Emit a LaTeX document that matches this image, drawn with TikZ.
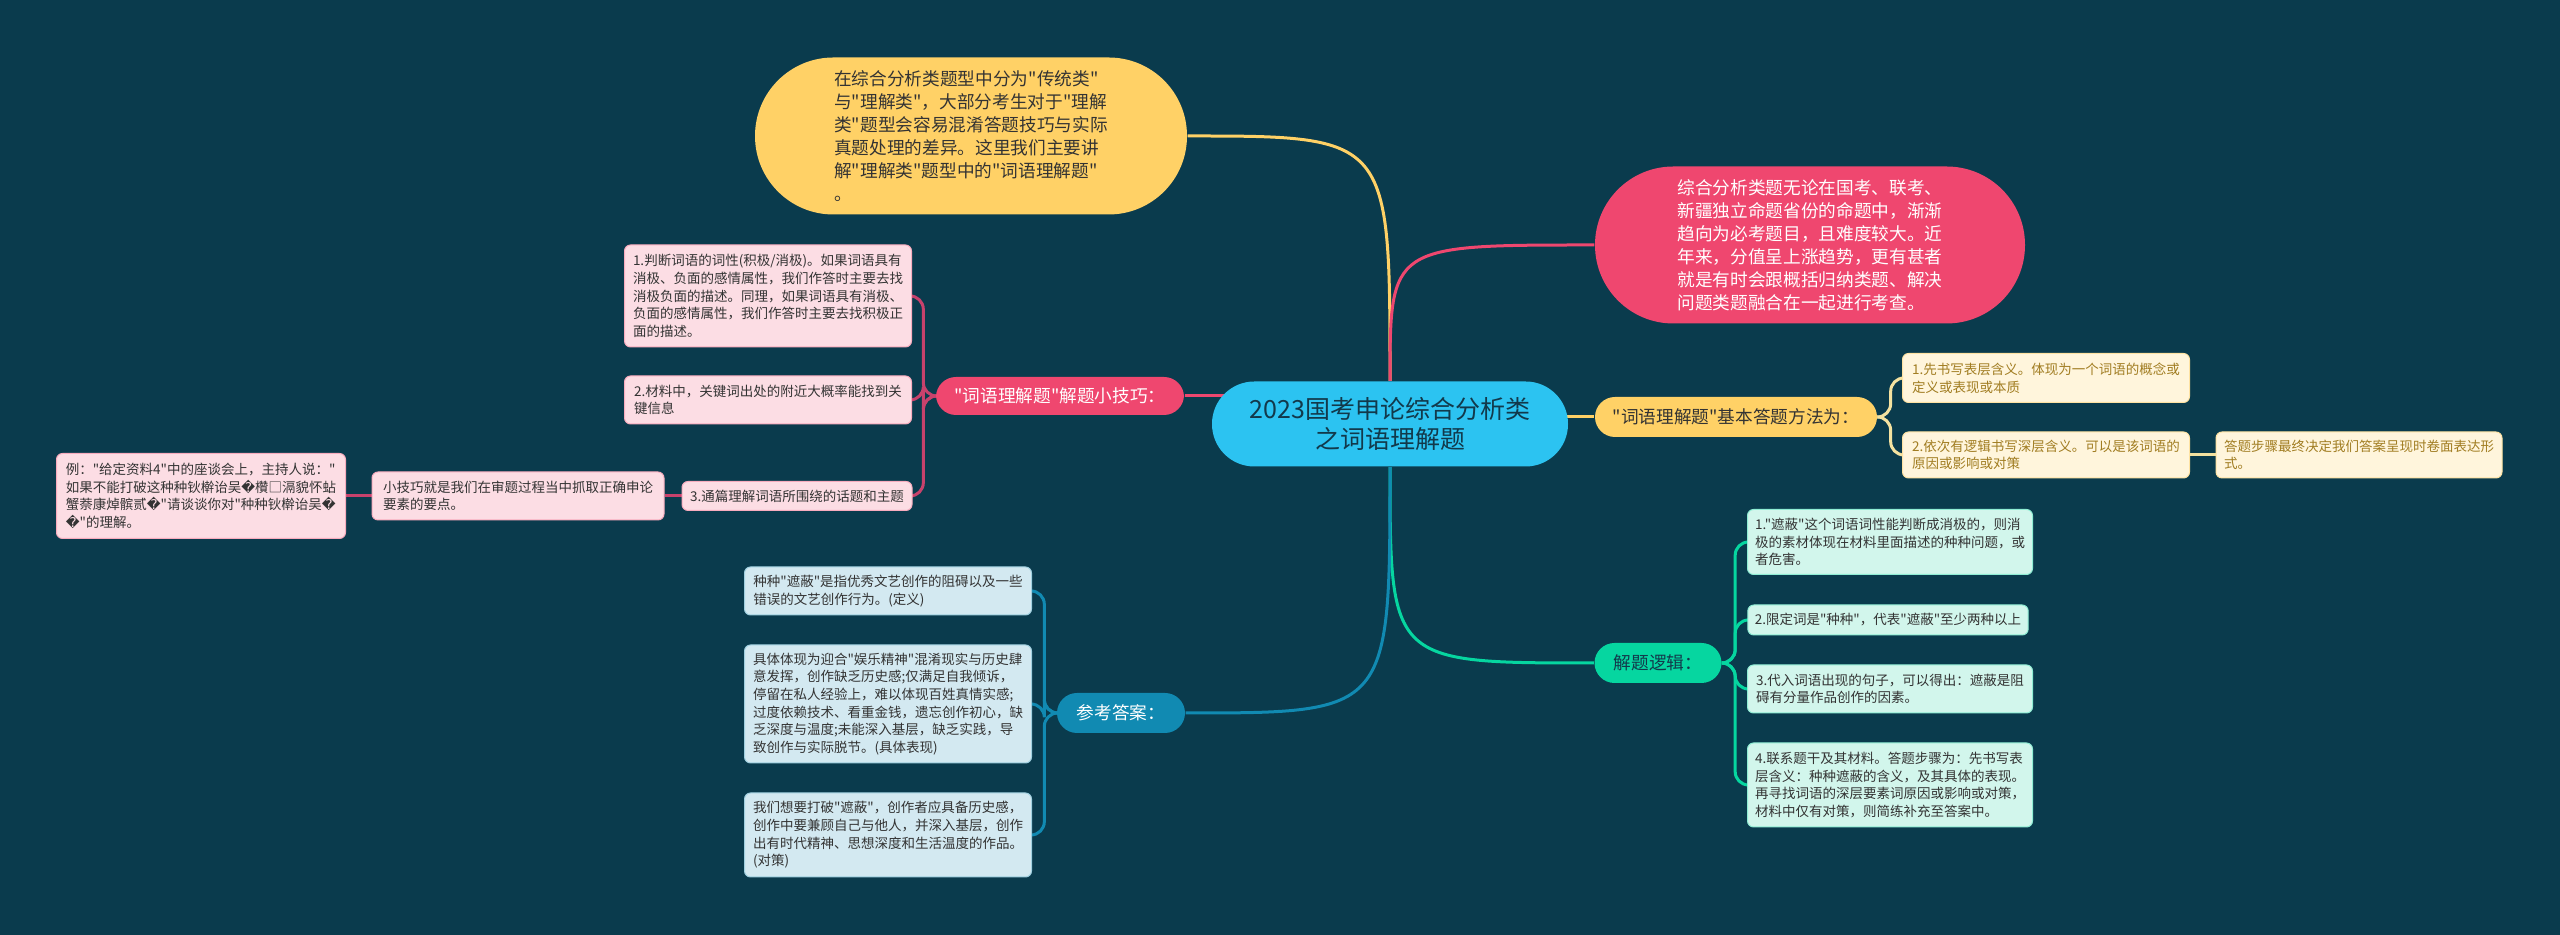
\documentclass[tikz,border=0pt]{standalone}
\usepackage{fontspec}
\setmainfont{Noto Sans CJK SC}[Ligatures=TeXOff]
\newfontfamily\symfont{DejaVu Sans}
\usetikzlibrary{backgrounds}
\definecolor{bgnavy}{HTML}{0A3B4D}
\definecolor{hubblue}{HTML}{2CC3F1}
\definecolor{sunyellow}{HTML}{FFD166}
\definecolor{rosepink}{HTML}{EF476F}
\definecolor{mintgreen}{HTML}{06D6A0}
\definecolor{oceanblue}{HTML}{118AB2}
\definecolor{paleyellow}{HTML}{FFF5DC}
\definecolor{palepink}{HTML}{FCDDE4}
\definecolor{palemint}{HTML}{D2F6EC}
\definecolor{paleblue}{HTML}{D3E9F1}
\definecolor{goldtext}{HTML}{A17D22}
\definecolor{darktext}{HTML}{333333}
\definecolor{hubtext}{HTML}{12394B}
\definecolor{pinkline}{HTML}{C8426C}
\definecolor{yellowline}{HTML}{F4E2A0}
\newcommand\bad{{\symfont �}}

\tikzset{
  hub/.style={fill=hubblue, text=hubtext, rounded corners=12.7pt, align=center,
    minimum width=106.8pt, minimum height=25.5pt, inner sep=0pt,
    font=\fontsize{7.5}{9}\selectfont},
  bubble/.style={rounded corners=23.5pt, align=left, minimum width=129.6pt,
    minimum height=47.1pt, inner sep=0pt, font=\fontsize{5.3}{6.9}\selectfont},
  branch/.style={rounded corners=6pt, minimum height=12pt, inner sep=0pt,
    font=\fontsize{5.3}{6.6}\selectfont},
  leaf/.style={rounded corners=1.8pt, align=left, minimum width=86.1pt,
    inner xsep=2.1pt, inner ysep=1pt, font=\fontsize{4.05}{5.3}\selectfont},
  yleaf/.style={leaf, fill=paleyellow, draw=sunyellow!60, line width=0.3pt, text=goldtext},
  pleaf/.style={leaf, fill=palepink, draw=rosepink!45, line width=0.3pt, text=darktext},
  gleaf/.style={leaf, fill=palemint, draw=mintgreen!45, line width=0.3pt, text=darktext},
  bleaf/.style={leaf, fill=paleblue, draw=oceanblue!40, line width=0.3pt, text=darktext},
  link/.style={line width=0.9pt, rounded corners=4pt},
}

\begin{document}
\begin{tikzpicture}[x=0.3pt,y=-0.3pt]
  \useasboundingbox (0,0) rectangle (2560,935);

  % centre and the two big bubbles
  \node[hub] (center) at (1390,424) {2023国考申论综合分析类\\之词语理解题};
  \node[bubble, fill=sunyellow, text=darktext] (intro) at (971,136)
    {在综合分析类题型中分为"传统类"\\与"理解类"，大部分考生对于"理解\\类"题型会容易混淆答题技巧与实际\\真题处理的差异。这里我们主要讲\\解"理解类"题型中的"词语理解题"\\。};
  \node[bubble, fill=rosepink, text=white, minimum width=129pt] (overview) at (1810,245)
    {综合分析类题无论在国考、联考、\\新疆独立命题省份的命题中，渐渐\\趋向为必考题目，且难度较大。近\\年来，分值呈上涨趋势，更有甚者\\就是有时会跟概括归纳类题、解决\\问题类题融合在一起进行考查。};

  % basic method
  \node[branch, fill=sunyellow, text=darktext, minimum width=84.6pt] (ans) at (1736,417)
    {"词语理解题"基本答题方法为：};
  \node[yleaf, minimum height=14.7pt] (ak1) at (2046,378)
    {1.先书写表层含义。体现为一个词语的概念或\\定义或表现或本质};
  \node[yleaf, minimum height=13.8pt] (ak2) at (2046,455)
    {2.依次有逻辑书写深层含义。可以是该词语的\\原因或影响或对策};
  \node[yleaf, minimum height=13.8pt, minimum width=85.8pt] (ak3) at (2359,455)
    {答题步骤最终决定我们答案呈现时卷面表达形\\式。};

  % logic
  \node[branch, fill=mintgreen, text=hubtext, minimum width=38.1pt] (logic) at (1658,663)
    {解题逻辑：};
  \node[gleaf, minimum width=85.5pt, minimum height=19.5pt] (lk1) at (1890,542)
    {1."遮蔽"这个词语词性能判断成消极的，则消\\极的素材体现在材料里面描述的种种问题，或\\者危害。};
  \node[gleaf, minimum width=84pt, minimum height=9pt] (lk2) at (1888,620)
    {2.限定词是"种种"，代表"遮蔽"至少两种以上};
  \node[gleaf, minimum width=85.5pt, minimum height=14.4pt] (lk3) at (1890,689)
    {3.代入词语出现的句子，可以得出：遮蔽是阻\\碍有分量作品创作的因素。};
  \node[gleaf, minimum width=85.5pt, minimum height=25.2pt] (lk4) at (1890,785)
    {4.联系题干及其材料。答题步骤为：先书写表\\层含义：种种遮蔽的含义，及其具体的表现。\\再寻找词语的深层要素词原因或影响或对策，\\材料中仅有对策，则简练补充至答案中。};

  % tips
  \node[branch, fill=rosepink, text=white, minimum width=74.4pt, minimum height=11.4pt] (tips) at (1060,396)
    {"词语理解题"解题小技巧：};
  \node[pleaf, minimum height=30.6pt] (tk1) at (768,296)
    {1.判断词语的词性(积极/消极)。如果词语具有\\消极、负面的感情属性，我们作答时主要去找\\消极负面的描述。同理，如果词语具有消极、\\负面的感情属性，我们作答时主要去找积极正\\面的描述。};
  \node[pleaf, minimum height=14.4pt] (tk2) at (768,400)
    {2.材料中，关键词出处的附近大概率能找到关\\键信息};
  \node[pleaf, minimum width=69pt, minimum height=8.7pt] (tk3) at (797,496)
    {3.通篇理解词语所围绕的话题和主题};
  \node[pleaf, minimum width=87.6pt, minimum height=14.4pt] (tk4) at (518,496)
    {小技巧就是我们在审题过程当中抓取正确申论\\要素的要点。};
  \node[pleaf, minimum width=86.7pt, minimum height=25.5pt] (tk5) at (201,496)
    {例："给定资料4"中的座谈会上，主持人说："\\如果不能打破这种种钬檊诒吴\bad 欑□滆貌怀蛅\\蟹萘康焯髌贰\bad "请谈谈你对"种种钬檊诒吴\bad\\\bad "的理解。};

  % reference answer
  \node[branch, fill=oceanblue, text=white, minimum width=38.4pt] (ref) at (1121,713)
    {参考答案：};
  \node[bleaf, minimum height=14.4pt] (rk1) at (888,591)
    {种种"遮蔽"是指优秀文艺创作的阻碍以及一些\\错误的文艺创作行为。(定义)};
  \node[bleaf, minimum height=35.4pt] (rk2) at (888,704)
    {具体体现为迎合"娱乐精神"混淆现实与历史肆\\意发挥，创作缺乏历史感;仅满足自我倾诉，\\停留在私人经验上，难以体现百姓真情实感;\\过度依赖技术、看重金钱，遗忘创作初心，缺\\乏深度与温度;未能深入基层，缺乏实践，导\\致创作与实际脱节。(具体表现)};
  \node[bleaf, minimum height=25.2pt] (rk3) at (888,835)
    {我们想要打破"遮蔽"，创作者应具备历史感，\\创作中要兼顾自己与他人，并深入基层，创作\\出有时代精神、思想深度和生活温度的作品。\\(对策)};

  \begin{scope}[on background layer]
    \fill[bgnavy] (0,0) rectangle (2560,935);
    % main branches
    \draw[link, sunyellow] (center.north) .. controls (center.north |- intro.east) .. (intro.east);
    \draw[link, rosepink] (center.north) .. controls (center.north |- overview.west) .. (overview.west);
    \draw[link, mintgreen] (center.south) .. controls (center.south |- logic.west) .. (logic.west);
    \draw[link, oceanblue] (center.south) .. controls (center.south |- ref.east) .. (ref.east);
    \draw[link, rosepink] (tips.east) -- (tips.east -| center.center);
    \draw[link, sunyellow] (center.center |- ans.west) -- (ans.west);
    % sub branches
    \foreach \k in {ak1,ak2}
      \draw[link, yellowline] (ans.east) -- ++(13,0) |- (\k.west);
    \draw[link, yellowline] (ak2.east) -- (ak3.west);
    \foreach \k in {lk1,lk2,lk3,lk4}
      \draw[link, mintgreen] (logic.east) -- ++(13,0) |- (\k.west);
    \foreach \k in {tk1,tk2,tk3}
      \draw[link, pinkline] (tips.west) -- ++(-12,0) |- (\k.east);
    \draw[link, pinkline] (tk3.west) -- (tk4.east);
    \draw[link, pinkline] (tk4.west) -- (tk5.east);
    \foreach \k in {rk1,rk2,rk3}
      \draw[link, oceanblue] (ref.west) -- ++(-12,0) |- (\k.east);
  \end{scope}
\end{tikzpicture}
\end{document}
